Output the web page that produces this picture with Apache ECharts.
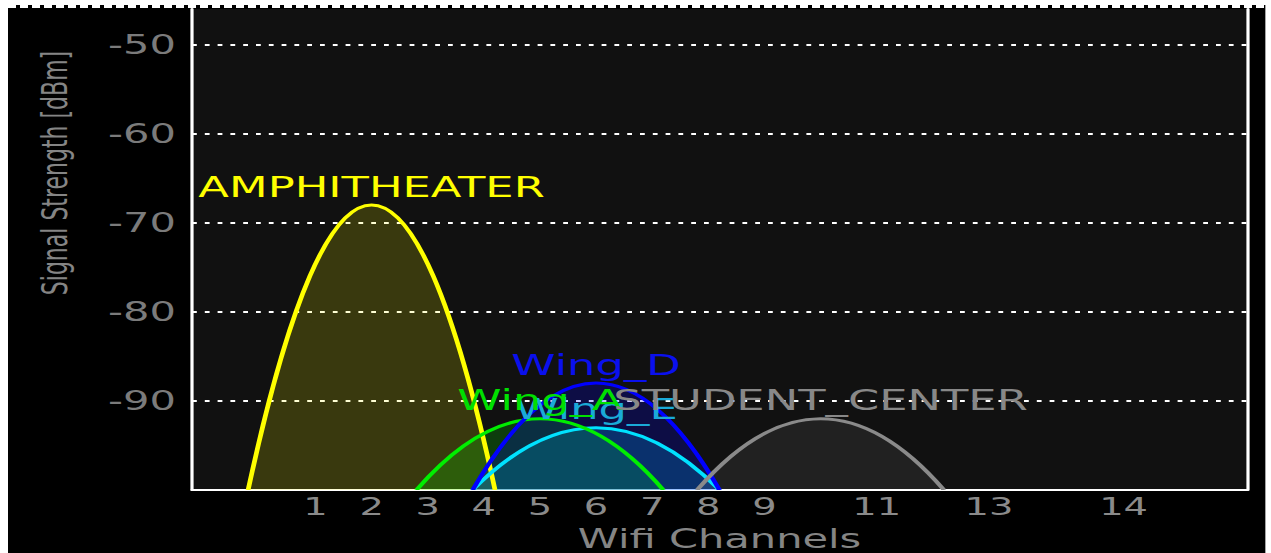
<!DOCTYPE html>
<html>
<head>
<meta charset="utf-8">
<script src="https://cdn.jsdelivr.net/npm/echarts@6/dist/echarts.min.js"></script>
<style>
  html, body { margin: 0; padding: 0; background: #ffffff; width: 1271px; height: 553px; overflow: hidden; }
  #chart { position: absolute; left: 8px; top: 5px; width: 785.625px; height: 548px;
           transform: scaleX(1.6); transform-origin: 0 0; }
</style>
</head>
<body>
<div id="chart"></div>
<script>
// ---- data ----
const networks   = ['AMPHITHEATER', 'Wing_E', 'Wing_A', 'Wing_D', 'STUDENT_CENTER'];
const channels   = [2, 6, 5, 6, 10];
const levels     = [-68, -93, -92, -88, -92];
const lineColors = ['#ffff00', '#00e2ff', '#00ee00', '#0000ff', '#8a8a8a'];
const fillColors = ['rgba(255,255,0,0.17)', 'rgba(0,226,255,0.22)', 'rgba(0,238,0,0.2)', 'rgba(0,0,255,0.22)', 'rgba(255,255,255,0.07)'];
const textColors = ['#ffff00', '#1aaad8', '#00e000', '#0a10ee', '#888888'];

const tickLabels   = ['1', '2', '3', '4', '5', '6', '7', '8', '9', '11', '13', '14'];
const tickChannels = [1, 2, 3, 4, 5, 6, 7, 8, 9, 11, 13, 14];

const yMin = -100, yMax = -46;
const FONT = "'DejaVu Sans', sans-serif";

// channel -> centre frequency (MHz)
const chFreq = ch => ch === 14 ? 2484 : 2407 + 5 * ch;
const tickFreqs = tickChannels.map(chFreq);
const HALF = 11; // half bandwidth in MHz

function renderItem(params, api) {
  const i = api.value(2);
  const f = api.value(0), lv = api.value(1);
  const p0 = api.coord([f - HALF, yMin]);
  const p2 = api.coord([f + HALF, yMin]);
  const top = api.coord([f, lv]);
  const cx = top[0], cy = 2 * top[1] - p0[1];
  const d = 'M' + p0[0] + ' ' + p0[1] + ' Q' + cx + ' ' + cy + ' ' + p2[0] + ' ' + p2[1];
  return {
    type: 'group',
    children: [
      { type: 'path', z2: 1 + i, shape: { pathData: d + ' Z' }, style: { fill: fillColors[i], stroke: null } },
      { type: 'path', z2: 20 + i, shape: { pathData: d }, style: { fill: null, stroke: lineColors[i], lineWidth: 3 } },
      { type: 'text', x: top[0], y: top[1] - 18, z2: 40 + i,
        style: { text: networks[i], fill: textColors[i], font: '28px ' + FONT, align: 'center', verticalAlign: 'middle' } }
    ]
  };
}

const chart = echarts.init(document.getElementById('chart'), null, { renderer: 'svg' });
chart.setOption({
  backgroundColor: '#000000',
  animation: false,
  grid: { left: 115, right: 11.6, top: 4, bottom: 63, show: true, backgroundColor: '#111111', borderWidth: 0,
          containLabel: false, outerBoundsMode: 'none' },
  graphic: [
    { type: 'line', shape: { x1: 0, y1: 1.5, x2: 785.625, y2: 1.5 },
      style: { stroke: '#ffffff', lineWidth: 3, lineDash: [5, 2.5] } },
    { type: 'text', x: 29.4, y: 168, rotation: Math.PI / 2,
      style: { text: 'Signal Strength [dBm]', fill: '#858585', font: '22px ' + FONT, align: 'center', verticalAlign: 'middle' } }
  ],
  xAxis: {
    type: 'value', min: 2401, max: 2495,
    axisLine: { show: true, onZero: false, lineStyle: { color: '#ffffff', width: 2 } },
    axisTick: { show: false },
    splitLine: { show: false },
    axisLabel: {
      customValues: tickFreqs,
      formatter: v => { const k = tickFreqs.indexOf(v); return k >= 0 ? tickLabels[k] : ''; },
      color: '#8a8a8a', fontSize: 24, fontFamily: FONT, margin: 5
    },
    name: 'Wifi Channels', nameLocation: 'middle', nameGap: 36,
    nameTextStyle: { color: '#858585', fontSize: 26, fontFamily: FONT }
  },
  yAxis: [{
    type: 'value', min: yMin, max: yMax, interval: 10,
    axisLine: { show: true, lineStyle: { color: '#ffffff', width: 2 } },
    axisTick: { show: false },
    axisLabel: { color: '#7b7b7b', fontSize: 26, fontFamily: FONT, margin: 10, showMinLabel: false, showMaxLabel: false },
    splitLine: { show: true, showMinLine: false, showMaxLine: false, lineStyle: { color: '#ffffff', width: 2, type: [3, 5] } }
  }, {
    type: 'value', min: yMin, max: yMax, interval: 10, position: 'right',
    axisLine: { show: true, lineStyle: { color: '#ffffff', width: 2 } },
    axisTick: { show: false }, axisLabel: { show: false }, splitLine: { show: false }
  }],
  series: [{
    type: 'custom',
    name: 'Networks',
    clip: true,
    silent: true,
    renderItem: renderItem,
    encode: { x: 0, y: 1 },
    data: networks.map((n, i) => [chFreq(channels[i]), levels[i], i])
  }]
});
</script>
</body>
</html>
